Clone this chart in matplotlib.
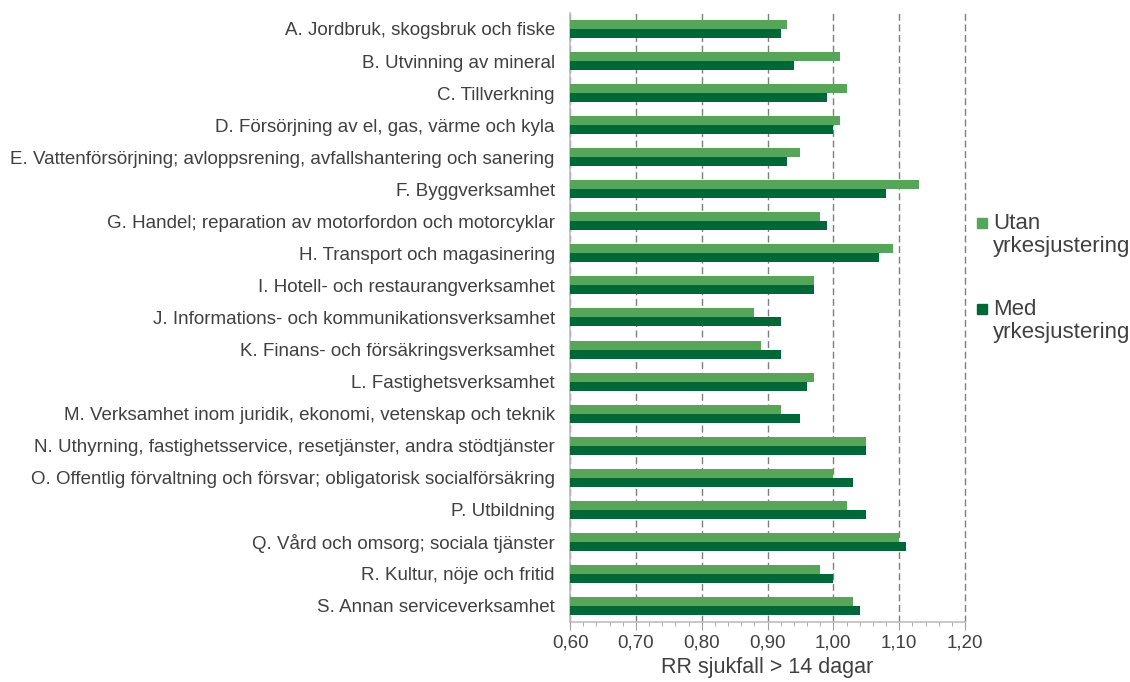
import matplotlib.pyplot as plt
import matplotlib.ticker as mticker
from matplotlib.patches import Rectangle
import numpy as np

plt.rcParams['font.family'] = ['Liberation Sans', 'DejaVu Sans']

categories = [
    'A. Jordbruk, skogsbruk och fiske',
    'B. Utvinning av mineral',
    'C. Tillverkning',
    'D. Försörjning av el, gas, värme och kyla',
    'E. Vattenförsörjning; avloppsrening, avfallshantering och sanering',
    'F. Byggverksamhet',
    'G. Handel; reparation av motorfordon och motorcyklar',
    'H. Transport och magasinering',
    'I. Hotell- och restaurangverksamhet',
    'J. Informations- och kommunikationsverksamhet',
    'K. Finans- och försäkringsverksamhet',
    'L. Fastighetsverksamhet',
    'M. Verksamhet inom juridik, ekonomi, vetenskap och teknik',
    'N. Uthyrning, fastighetsservice, resetjänster, andra stödtjänster',
    'O. Offentlig förvaltning och försvar; obligatorisk socialförsäkring',
    'P. Utbildning',
    'Q. Vård och omsorg; sociala tjänster',
    'R. Kultur, nöje och fritid',
    'S. Annan serviceverksamhet',
]
utan = [0.93, 1.01, 1.02, 1.01, 0.95, 1.13, 0.98, 1.09, 0.97, 0.88,
        0.89, 0.97, 0.92, 1.05, 1.00, 1.02, 1.10, 0.98, 1.03]
med = [0.92, 0.94, 0.99, 1.00, 0.93, 1.08, 0.99, 1.07, 0.97, 0.92,
       0.92, 0.96, 0.95, 1.05, 1.03, 1.05, 1.11, 1.00, 1.04]
series_names = ['Utan\nyrkesjustering', 'Med\nyrkesjustering']

c_light = '#56a55b'
c_dark = '#006837'
colors = [c_light, c_dark]
txt = '#404040'
base = 0.60

fig = plt.figure(figsize=(11.3, 6.82), dpi=100)
ax = fig.add_axes([0.5045, 0.088, 0.3495, 0.893])

y = np.arange(len(categories))
h = 0.28
ax.barh(y - h / 2, np.array(utan) - base, left=base, height=h, color=c_light, zorder=3)
ax.barh(y + h / 2, np.array(med) - base, left=base, height=h, color=c_dark, zorder=3)

ax.set_ylim(len(categories) - 0.5, -0.5)
ax.set_xlim(0.60, 1.20)
ax.set_yticks(y)
ax.set_yticklabels(categories, fontsize=13.5, color=txt)
ax.tick_params(axis='y', length=0, pad=11)

ax.xaxis.set_major_locator(mticker.MultipleLocator(0.1))
ax.xaxis.set_minor_locator(mticker.MultipleLocator(0.02))
ax.xaxis.set_major_formatter(mticker.FuncFormatter(lambda v, p: f'{v:.2f}'.replace('.', ',')))
ax.tick_params(axis='x', which='major', length=6, color='#a0a0a0', labelsize=13.5,
               labelcolor=txt, pad=3)
ax.tick_params(axis='x', which='minor', length=3, color='#a0a0a0')
ax.grid(axis='x', which='major', linestyle=(0, (5, 2.6)), color='#7f7f7f', linewidth=1, zorder=0)
for gl in ax.get_xgridlines():
    gl.set_clip_on(False)
ax.set_xlabel('RR sjukfall > 14 dagar', fontsize=15.5, color=txt, labelpad=4)

for s in ['top', 'right']:
    ax.spines[s].set_visible(False)
for s in ['left', 'bottom']:
    ax.spines[s].set_color('#bfbfbf')
    ax.spines[s].set_linewidth(1.2)

# legend, built by hand so the square sits beside the first text line
W, H = 1130.0, 682.0
for i, (name, col) in enumerate(zip(series_names, colors)):
    top = 213 + i * 86
    fig.patches.append(Rectangle((977 / W, 1 - (top + 15) / H), 10 / W, 10 / H,
                                 transform=fig.transFigure, color=col))
    fig.text(993 / W, 1 - top / H, name, fontsize=16, color=txt, va='top', ha='left',
             linespacing=1.1)

fig.savefig('out.png', dpi=100)
